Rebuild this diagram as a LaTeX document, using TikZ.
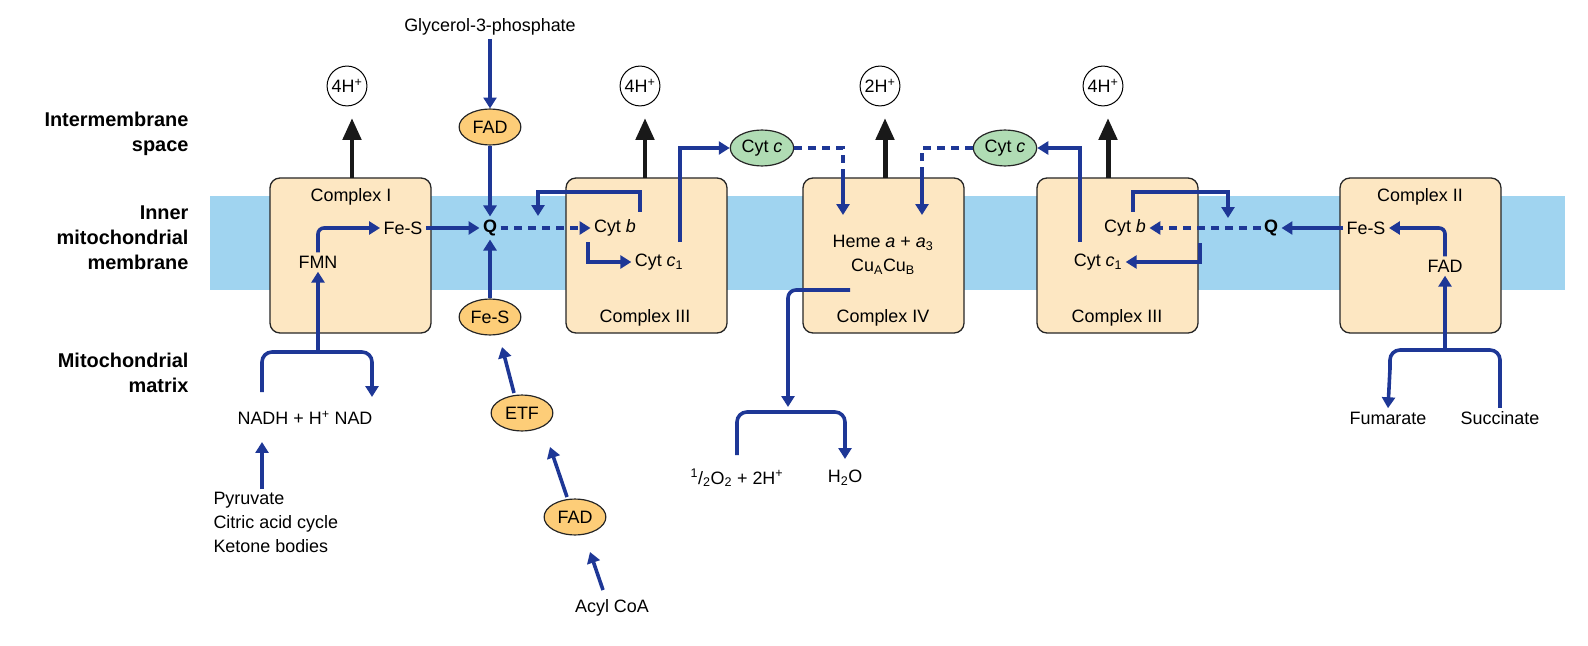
\documentclass[tikz,border=0pt]{standalone}
\usepackage{fontspec}
\setmainfont{Liberation Sans}
\usetikzlibrary{arrows.meta,shapes.geometric}
\definecolor{mem}{RGB}{160,212,240}
\definecolor{box}{RGB}{253,231,194}
\definecolor{bl}{RGB}{30,55,150}
\definecolor{ora}{RGB}{253,205,120}
\definecolor{grn}{RGB}{176,220,180}
\begin{document}
\begin{tikzpicture}[x=1bp,y=-1bp,
 every node/.style={font=\fontsize{18}{21}\selectfont},
 cx/.style={draw=black!85,fill=box,rounded corners=10pt,line width=1.3pt},
 el/.style={ellipse,draw=black!85,line width=1.2pt,inner sep=2pt,minimum width=62pt,minimum height=36pt},
 ba/.style={bl,line width=3.6pt,-{Triangle[length=11pt,width=13pt]}},
 bn/.style={bl,line width=3.6pt},
 da/.style={ba,dash pattern=on 8pt off 6pt},
 ka/.style={black!90,line width=5pt,-{Triangle[length=22pt,width=18pt]}},
 hc/.style={circle,draw,line width=1pt,minimum size=40pt,inner sep=0pt},
 lab/.style={font=\fontsize{20}{25}\bfseries\selectfont,align=right,anchor=east}]
\useasboundingbox (0,0) rectangle (1588,646);
\fill[mem] (210,196) rectangle (1565,290);
\foreach \n/\x in {c1/270,c3/566,c4/803,c3b/1037,c2/1340}
 \draw[cx] (\x,178) rectangle +(161,155);
\node[lab] at (192,134) {Intermembrane\\space};
\node[lab] at (192,238) {Inner\\mitochondrial\\membrane};
\node[lab] at (192,373) {Mitochondrial\\matrix};
% protons
\foreach \n/\x/\t in {h1/347/4,h3/640/4,h4/880/2,h3b/1103/4}{
 \node[hc] (\n) at (\x,86) {\t H\textsuperscript{+}};
 \coordinate (\n b) at (\x+5,178);
 \draw[ka] (\n b) -- (\x+5,118);}
% Complex I
\node at (351,197) {Complex I};
\node (fmn) at (318,262) {FMN};
\node (fes1) at (403,228) {Fe-S};
\node[font=\fontsize{18}{21}\bfseries\selectfont] (q1) at (490,228) {Q};
\draw[ba,rounded corners=6pt] (fmn.north) |- (fes1.west);
\draw[ba] (fes1.east) -- (q1.west);
% Glycerol branch
\node (g3p) at (490,27) {Glycerol-3-phosphate};
\node[el,fill=ora] (fad1) at (490,127) {FAD};
\draw[ba] (g3p.south) -- (fad1.north);
\draw[ba] (fad1.south) -- (q1.north);
\node[el,fill=ora] (fes2) at (490,317) {Fe-S};
\draw[ba] (fes2.north) -- (q1.south);
\node[el,fill=ora] (etf) at (522,413) {ETF};
\node[el,fill=ora] (fad2) at (575,517) {FAD};
\node (acyl) at (612,608) {Acyl CoA};
\coordinate (e1) at (514,393);
\coordinate (e2) at (567,497);
\coordinate (e3) at (603,590);
\draw[ba] (e1) -- (502,347);
\draw[ba] (e2) -- (550,447);
\draw[ba] (e3) -- (590,552);
% Complex III
\node (cb1) at (615,228) {Cyt \textit{b}};
\node (cc1) at (659,262) {Cyt \textit{c}\textsubscript{1}};
\node at (645,318) {Complex III};
\draw[da] (q1.east) -- (cb1.west);
\coordinate (t1) at (640,212);
\draw[ba] (t1) -- (640,192) -- (538,192) -- (538,216);
\coordinate (t2) at (588,242);
\draw[ba] (t2) -- (588,262) -- (cc1.west);
\node[el,fill=grn] (cyc1) at (762,148) {Cyt \textit{c}};
\coordinate (t3) at (680,242);
\draw[ba] (t3) -- (680,148) -- (cyc1.west);
% Complex IV
\node (heme) at (883,243) {Heme \textit{a} + \textit{a}\textsubscript{3}};
\node (cu) at (883,267) {Cu\textsubscript{A}Cu\textsubscript{B}};
\node at (883,318) {Complex IV};
\draw[bn,dash pattern=on 8pt off 6pt] (cyc1.east) -- (843,148) -- (843,175);
\draw[ba] (843,175) -- (843,215);
\node[el,fill=grn] (cyc2) at (1005,148) {Cyt \textit{c}};
\draw[bn,dash pattern=on 8pt off 6pt] (cyc2.west) -- (922,148) -- (922,175);
\draw[ba] (922,175) -- (922,215);
\coordinate (t4) at (850,290);
\draw[ba,rounded corners=8pt] (t4) -- (788,290) -- (788,407);
\node (o2) at (737,478) {\textsuperscript{1}/\textsubscript{2}O\textsubscript{2} + 2H\textsuperscript{+}};
\node (h2o) at (845,478) {H\textsubscript{2}O};
\draw[ba,rounded corners=10pt] (737,455) -- (737,412) -- (845,412) -- (845,459);
% Complex III b
\node (cb2) at (1125,228) {Cyt \textit{b}};
\node (cc2) at (1098,262) {Cyt \textit{c}\textsubscript{1}};
\node at (1117,318) {Complex III};
\coordinate (t5) at (1080,242);
\draw[ba] (t5) -- (1080,148) -- (cyc2.east);
\coordinate (t6) at (1133,212);
\draw[ba] (t6) -- (1133,192) -- (1228,192) -- (1228,218);
\node[font=\fontsize{18}{21}\bfseries\selectfont] (q2) at (1271,228) {Q};
\draw[da] (q2.west) -- (cb2.east);
\coordinate (t7) at (1200,243);
\draw[ba] (t7) -- (1200,262) -- (cc2.east);
% Complex II
\node at (1420,197) {Complex II};
\node (fes3) at (1366,228) {Fe-S};
\node (fad3) at (1445,266) {FAD};
\draw[ba] (fes3.west) -- (q2.east);
\draw[ba,rounded corners=6pt] (fad3.north) |- (fes3.east);
\node (fum) at (1388,418) {Fumarate};
\node (suc) at (1500,418) {Succinate};
\draw[bn,rounded corners=10pt] (suc.north) -- (1500,350) -- (1390,350) -- (1390,370);
\draw[ba] (1390,368) -- (fum.north);
\draw[ba] (1445,350) -- (fad3.south);
% Complex I matrix
\node (nadh) at (305,418) {NADH + H\textsuperscript{+} NAD};
\draw[ba] (318,352) -- (fmn.south);
\draw[bn,rounded corners=10pt] (262,392) -- (262,352) -- (372,352) -- (372,372);
\draw[ba] (372,370) -- (372,397);
\node[align=left,anchor=north west,font=\fontsize{18}{24}\selectfont] (pyr) at (210,489) {Pyruvate\\Citric acid cycle\\Ketone bodies};
\draw[ba] (262,489) -- (262,442);
\end{tikzpicture}
\end{document}
